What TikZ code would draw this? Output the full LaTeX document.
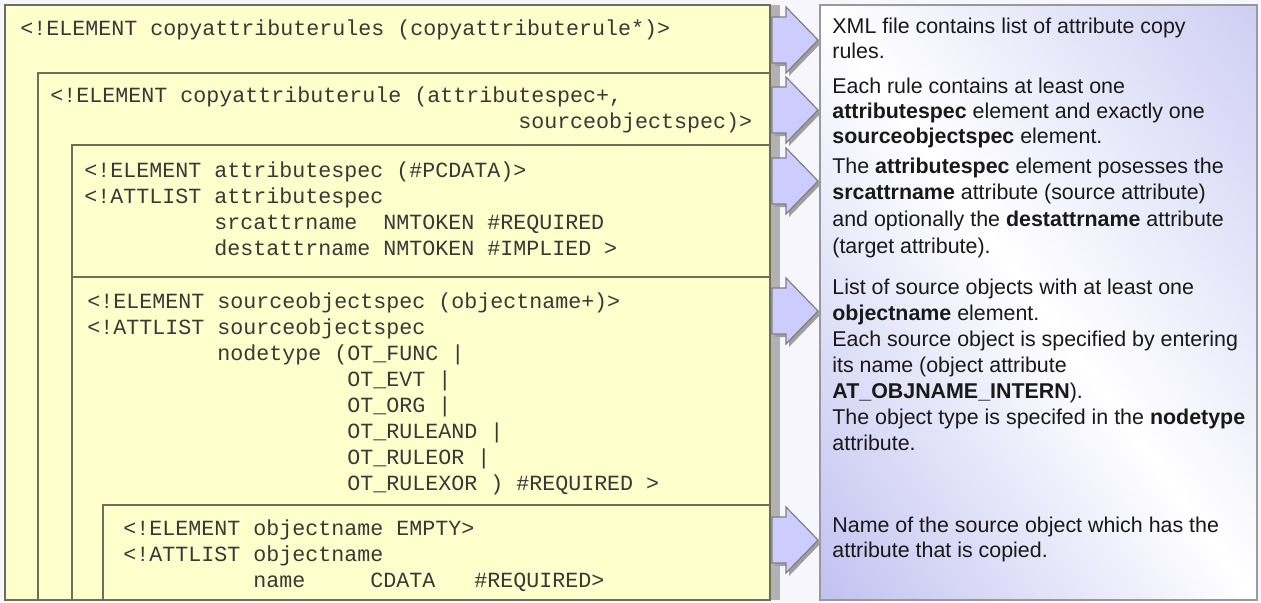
\documentclass[tikz,border=0pt]{standalone}
\usepackage{fontspec}
\setmainfont{Liberation Sans}
\setmonofont{Liberation Mono}

\definecolor{dtdyellow}{HTML}{FFFFCC}
\definecolor{boxline}{HTML}{6E6E5A}
\definecolor{arrowblue}{HTML}{CCCCFF}
\definecolor{notelav}{HTML}{BCBCF0}
\definecolor{pagebg}{HTML}{F6F6FC}

\newcommand\colskip[1]{\hspace*{#1\dimexpr0.6em\relax}}

\tikzset{
  dtdbox/.style={fill=dtdyellow, draw=boxline, line width=1pt},
  dtdtext/.style={anchor=base west, inner sep=0pt, align=left, text=black!78,
    font=\ttfamily\fontsize{10.83}{13}\selectfont\frenchspacing},
  notetext/.style={anchor=base west, inner sep=0pt, align=left, text=black!90,
    font=\fontsize{10.7}{#1}\selectfont},
  notetext/.default=12.5pt,
  arrowbody/.style={fill=arrowblue, draw=gray, line width=0.6pt},
  arrowshadow/.style={fill=gray!75}
}

\begin{document}
\begin{tikzpicture}
  \begin{scope}[x=0.5pt,y=-0.5pt]

    \useasboundingbox (0,0) rectangle (1261,602);
    \fill[pagebg] (0,0) rectangle (1261,602);

    % nested DTD boxes
    \filldraw[dtdbox] (5,5) rectangle (770,600);
    \filldraw[dtdbox] (38,73) rectangle (770,600);
    \filldraw[dtdbox] (72,145) rectangle (770,277);
    \filldraw[dtdbox] (72,277) rectangle (770,600);
    \filldraw[dtdbox] (103,505) rectangle (770,600);
    \fill[gray!60] (771,5) rectangle (780,600);

    % base anchor of a multi-line node = baseline of its last line
    \node[dtdtext] (ruleset) at (20,35) {<!ELEMENT copyattributerules (copyattributerule*)>};
    \node[dtdtext] (rule) at (50,128) {<!ELEMENT copyattributerule (attributespec+,\\
      \colskip{36}sourceobjectspec)>};
    \node[dtdtext] (attrspec) at (84,255) {<!ELEMENT attributespec (\#PCDATA)>\\
      <!ATTLIST attributespec\\
      \colskip{10}srcattrname~~NMTOKEN \#REQUIRED\\
      \colskip{10}destattrname NMTOKEN \#IMPLIED >};
    \node[dtdtext] (srcspec) at (87,490) {<!ELEMENT sourceobjectspec (objectname+)>\\
      <!ATTLIST sourceobjectspec\\
      \colskip{10}nodetype (OT\_FUNC |\\
      \colskip{20}OT\_EVT |\\
      \colskip{20}OT\_ORG |\\
      \colskip{20}OT\_RULEAND |\\
      \colskip{20}OT\_RULEOR |\\
      \colskip{20}OT\_RULEXOR ) \#REQUIRED >};
    \node[dtdtext] (objname) at (123,587) {<!ELEMENT objectname EMPTY>\\
      <!ATTLIST objectname\\
      \colskip{10}name\colskip{5}CDATA\colskip{3}\#REQUIRED>};

    % block arrows
    \foreach \ay in {40,110,181,311,540} {
      \fill[arrowshadow, shift={(3,3)}] (772,\ay-23) -- (786,\ay-23) -- (786,\ay-33) -- (818,\ay)
        -- (786,\ay+33) -- (786,\ay+23) -- (772,\ay+23) -- cycle;
      \filldraw[arrowbody] (772,\ay-23) -- (786,\ay-23) -- (786,\ay-33) -- (818,\ay)
        -- (786,\ay+33) -- (786,\ay+23) -- (772,\ay+23) -- cycle;
    }

    % notes panel: lavender in the top left and bottom right corners
    \begin{scope}
      \clip (820,5) rectangle (1257,600);
      \shade[top color=notelav!80!white, bottom color=notelav, middle color=white,
        transform canvas={rotate around={-54:(1038.5,302.5)}}]
        (658,-78) rectangle (1419,683);
    \end{scope}
    \draw[gray!80, line width=1pt] (820,5) rectangle (1257,600);

    \node[notetext] (noteruleset) at (832,58) {XML file contains list of attribute copy\\rules.};
    \node[notetext] (noterule) at (832,143) {Each rule contains at least one\\
      \textbf{attributespec} element and exactly one\\
      \textbf{sourceobjectspec} element.};
    \node[notetext=13.3pt] (noteattr) at (832,253) {The \textbf{attributespec} element posesses the\\
      \textbf{srcattrname} attribute (source attribute)\\
      and optionally the \textbf{destattrname} attribute\\
      (target attribute).};
    \node[notetext=13pt] (notesrc) at (832,450) {List of source objects with at least one\\
      \textbf{objectname} element.\\
      Each source object is specified by entering\\
      its name (object attribute\\
      \textbf{AT\_OBJNAME\_INTERN}).\\
      The object type is specifed in the \textbf{nodetype}\\
      attribute.};
    \node[notetext] (noteobj) at (832,557) {Name of the source object which has the\\
      attribute that is copied.};

  \end{scope}
\end{tikzpicture}
\end{document}
